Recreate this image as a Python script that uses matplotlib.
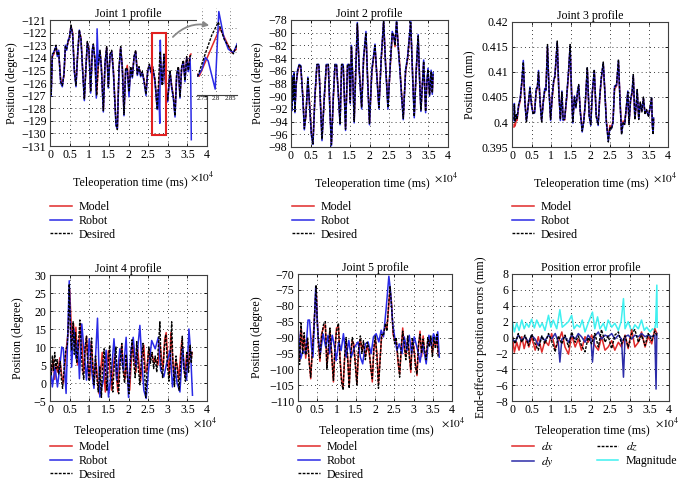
import matplotlib
matplotlib.use('Agg')
import matplotlib.pyplot as plt
from matplotlib.patches import Rectangle, FancyArrowPatch
from matplotlib.ticker import FuncFormatter, MultipleLocator

plt.rcParams['font.family'] = ['Liberation Serif', 'DejaVu Serif']
plt.rcParams['mathtext.fontset'] = 'stix'

W, H = 683, 486
FS = 8.6
RED = '#e02a2a'
BLUE = '#2a2ae6'
NAVY = '#2c2ca8'
CYAN = '#3ff0f0'

# --- data: (time x1e4 ms, value) ---
J1_DESIRED = [
    (0.000, -123.8), (0.015, -124.5), (0.030, -126.9), (0.060, -123.7), (0.100, -123.6), (0.153, -123.0),
    (0.187, -123.8), (0.221, -123.5), (0.272, -125.9), (0.314, -126.2), (0.357, -125.3), (0.391, -123.1),
    (0.425, -123.3), (0.459, -122.7), (0.493, -122.5), (0.535, -121.4), (0.577, -122.1), (0.620, -125.0),
    (0.662, -126.2), (0.705, -123.7), (0.747, -121.8), (0.790, -122.5), (0.832, -125.0), (0.875, -127.3),
    (0.917, -124.7), (0.951, -122.7), (0.994, -123.4), (1.036, -126.7), (1.079, -123.4), (1.104, -122.9),
    (1.146, -124.2), (1.189, -127.0), (1.231, -124.5), (1.274, -123.4), (1.308, -124.7), (1.359, -128.2),
    (1.401, -124.5), (1.444, -123.1), (1.486, -126.3), (1.529, -123.7), (1.571, -123.4), (1.614, -125.0),
    (1.682, -129.3), (1.716, -129.7), (1.758, -124.8), (1.800, -123.1), (1.843, -124.8), (1.885, -128.5),
    (1.928, -124.8), (1.970, -124.9), (2.013, -126.7), (2.055, -124.7), (2.098, -125.5), (2.140, -123.9),
    (2.183, -123.4), (2.225, -125.3), (2.268, -124.7), (2.310, -125.4), (2.352, -125.1), (2.395, -125.8),
    (2.446, -126.9), (2.488, -125.0), (2.531, -124.5), (2.573, -125.1), (2.616, -124.7), (2.675, -125.8),
    (2.718, -127.5), (2.735, -128.1), (2.760, -126.3), (2.785, -124.6), (2.808, -123.5), (2.830, -125.0),
    (2.862, -126.2), (2.904, -123.7), (2.955, -126.6), (2.998, -127.4), (3.057, -125.0), (3.100, -126.3),
    (3.142, -127.1), (3.185, -128.6), (3.227, -125.3), (3.270, -124.7), (3.312, -127.1), (3.355, -124.7),
    (3.397, -124.2), (3.439, -125.8), (3.482, -123.9), (3.524, -125.0), (3.567, -123.9), (3.592, -123.8),
]
J1_ROBOT = [
    (0.000, -123.9), (0.015, -124.8), (0.030, -127.0), (0.060, -123.8), (0.100, -123.5), (0.153, -123.1),
    (0.187, -123.9), (0.221, -123.4), (0.272, -126.0), (0.314, -126.3), (0.357, -125.2), (0.391, -123.0),
    (0.425, -123.4), (0.459, -122.6), (0.493, -122.4), (0.535, -121.5), (0.577, -122.2), (0.620, -125.1),
    (0.662, -126.3), (0.705, -123.6), (0.747, -121.8), (0.790, -122.6), (0.832, -125.1), (0.875, -127.4),
    (0.917, -124.6), (0.951, -122.8), (0.994, -123.5), (1.036, -126.8), (1.079, -123.3), (1.104, -123.0),
    (1.146, -124.3), (1.180, -127.2), (1.200, -121.7), (1.231, -124.6), (1.274, -123.5), (1.308, -124.8),
    (1.359, -128.3), (1.401, -124.4), (1.444, -123.2), (1.486, -126.4), (1.529, -123.8), (1.571, -123.5),
    (1.614, -125.1), (1.682, -129.4), (1.716, -129.6), (1.758, -124.9), (1.800, -123.2), (1.843, -124.9),
    (1.885, -128.6), (1.928, -124.9), (1.970, -125.0), (2.013, -127.1), (2.055, -124.8), (2.098, -125.6),
    (2.140, -124.0), (2.183, -123.5), (2.225, -125.4), (2.268, -124.8), (2.310, -125.5), (2.352, -125.2),
    (2.395, -125.9), (2.446, -127.0), (2.488, -125.1), (2.531, -124.6), (2.573, -125.2), (2.616, -124.8),
    (2.675, -125.9), (2.718, -127.6), (2.735, -128.1), (2.750, -127.5), (2.762, -126.5), (2.772, -126.8),
    (2.797, -129.2), (2.810, -122.6), (2.828, -124.8), (2.844, -125.8), (2.862, -126.1), (2.904, -123.8),
    (2.955, -126.7), (2.998, -127.5), (3.057, -125.1), (3.100, -126.4), (3.142, -127.2), (3.185, -128.7),
    (3.227, -125.4), (3.270, -124.8), (3.312, -127.2), (3.355, -124.8), (3.397, -124.3), (3.439, -125.9),
    (3.482, -124.0), (3.524, -125.1), (3.567, -124.0), (3.585, -125.5), (3.600, -130.5),
]
J1_MODEL = [
    (0.000, -123.7), (0.015, -124.3), (0.030, -126.6), (0.060, -123.9), (0.100, -123.7), (0.153, -123.1),
    (0.187, -123.7), (0.221, -123.6), (0.272, -125.7), (0.314, -126.1), (0.357, -125.4), (0.391, -123.2),
    (0.425, -123.2), (0.459, -122.8), (0.493, -122.4), (0.535, -121.5), (0.577, -122.0), (0.620, -124.9),
    (0.662, -126.1), (0.705, -123.8), (0.747, -121.9), (0.790, -122.4), (0.832, -124.9), (0.875, -127.2),
    (0.917, -124.8), (0.951, -122.8), (0.994, -123.3), (1.036, -126.6), (1.079, -123.5), (1.104, -123.0),
    (1.146, -124.1), (1.189, -126.9), (1.231, -124.6), (1.274, -123.5), (1.308, -124.6), (1.359, -128.1),
    (1.401, -124.6), (1.444, -123.2), (1.486, -126.2), (1.529, -123.8), (1.571, -123.5), (1.614, -124.9),
    (1.682, -129.2), (1.716, -129.6), (1.758, -124.9), (1.800, -123.2), (1.843, -124.7), (1.885, -128.4),
    (1.928, -125.1), (1.970, -124.6), (2.013, -126.6), (2.055, -124.8), (2.098, -125.4), (2.140, -124.0),
    (2.183, -123.5), (2.225, -125.2), (2.268, -124.8), (2.310, -125.3), (2.352, -125.2), (2.395, -125.7),
    (2.446, -126.8), (2.488, -125.1), (2.531, -124.6), (2.573, -125.0), (2.616, -124.8), (2.675, -125.7),
    (2.718, -127.6), (2.740, -128.1), (2.814, -124.0), (2.856, -126.1), (2.874, -125.8), (2.904, -123.9),
    (2.955, -126.5), (2.998, -127.3), (3.057, -125.1), (3.100, -126.2), (3.142, -127.0), (3.185, -128.5),
    (3.227, -125.4), (3.270, -124.8), (3.312, -127.0), (3.355, -124.8), (3.397, -124.3), (3.439, -125.7),
    (3.482, -124.0), (3.524, -124.9), (3.567, -123.8), (3.592, -123.7),
]

J2_DESIRED = [
    (0.00, -88.5), (0.02, -92.0), (0.04, -87.0), (0.06, -90.5), (0.08, -86.5), (0.10, -92.4), (0.13, -88.0),
    (0.17, -86.0), (0.21, -85.0), (0.25, -85.3), (0.30, -90.0), (0.34, -95.1), (0.38, -93.0), (0.43, -87.2),
    (0.47, -91.0), (0.52, -96.0), (0.56, -97.5), (0.61, -90.0), (0.66, -85.0), (0.71, -85.0), (0.75, -91.0),
    (0.79, -96.8), (0.85, -90.0), (0.90, -85.0), (0.95, -85.0), (0.99, -92.0), (1.03, -97.6), (1.08, -90.0),
    (1.12, -85.0), (1.16, -85.0), (1.21, -90.0), (1.25, -94.3), (1.29, -85.0), (1.33, -85.0), (1.36, -90.0),
    (1.39, -95.2), (1.44, -85.0), (1.48, -85.0), (1.51, -91.0), (1.54, -82.1), (1.58, -88.0), (1.61, -94.0),
    (1.65, -86.0), (1.69, -78.6), (1.74, -86.0), (1.80, -91.8), (1.85, -84.0), (1.91, -80.0), (1.95, -87.0),
    (2.00, -94.3), (2.06, -86.0), (2.14, -82.0), (2.19, -87.0), (2.24, -91.8), (2.30, -84.0), (2.36, -78.2),
    (2.41, -85.0), (2.47, -91.8), (2.53, -85.0), (2.58, -80.0), (2.62, -80.5), (2.65, -82.0), (2.69, -78.2),
    (2.73, -82.0), (2.77, -85.3), (2.82, -90.0), (2.86, -93.5), (2.92, -86.0), (2.97, -84.0), (3.05, -78.4),
    (3.10, -87.0), (3.14, -93.2), (3.19, -86.0), (3.24, -80.5), (3.28, -88.0), (3.31, -92.2), (3.35, -88.0),
    (3.38, -84.5), (3.43, -92.4), (3.46, -88.0), (3.49, -85.8), (3.53, -89.8), (3.57, -86.1), (3.60, -89.5),
    (3.62, -86.5),
]
J2_ROBOT = [
    (0.00, -88.8), (0.02, -92.3), (0.04, -86.8), (0.06, -90.7), (0.08, -86.3), (0.10, -92.6), (0.13, -88.2),
    (0.17, -85.8), (0.21, -85.0), (0.25, -85.2), (0.30, -90.3), (0.34, -95.3), (0.38, -92.8), (0.43, -87.0),
    (0.47, -91.3), (0.52, -96.2), (0.56, -97.6), (0.61, -89.8), (0.66, -85.0), (0.71, -85.0), (0.75, -91.3),
    (0.79, -97.0), (0.85, -89.8), (0.90, -85.0), (0.95, -85.0), (0.99, -92.3), (1.03, -97.8), (1.08, -89.7),
    (1.12, -85.0), (1.16, -85.0), (1.21, -90.3), (1.25, -94.5), (1.29, -85.0), (1.33, -85.0), (1.36, -90.3),
    (1.39, -95.4), (1.44, -85.0), (1.48, -85.0), (1.51, -91.2), (1.54, -82.0), (1.58, -88.3), (1.61, -94.2),
    (1.65, -85.8), (1.69, -78.4), (1.74, -86.3), (1.80, -92.0), (1.85, -83.8), (1.91, -79.8), (1.95, -87.3),
    (2.00, -94.5), (2.06, -85.8), (2.14, -81.8), (2.19, -87.3), (2.24, -92.0), (2.30, -83.8), (2.36, -78.0),
    (2.41, -85.3), (2.47, -92.0), (2.53, -84.8), (2.58, -79.8), (2.62, -80.7), (2.65, -81.8), (2.69, -78.0),
    (2.73, -82.3), (2.77, -85.5), (2.82, -90.3), (2.86, -93.7), (2.92, -85.8), (2.97, -83.8), (3.05, -78.2),
    (3.10, -87.3), (3.14, -93.4), (3.19, -85.8), (3.24, -80.3), (3.28, -88.3), (3.31, -92.4), (3.35, -87.8),
    (3.38, -84.3), (3.43, -92.6), (3.46, -87.8), (3.49, -85.6), (3.53, -90.0), (3.57, -85.9), (3.60, -89.7),
    (3.62, -86.3),
]
J2_MODEL = [
    (0.00, -88.3), (0.02, -91.6), (0.04, -87.3), (0.06, -90.2), (0.08, -86.8), (0.10, -92.0), (0.13, -88.2),
    (0.17, -86.2), (0.21, -85.2), (0.25, -85.5), (0.30, -89.7), (0.34, -94.8), (0.38, -93.2), (0.43, -87.5),
    (0.47, -90.8), (0.52, -95.8), (0.56, -97.3), (0.61, -90.2), (0.66, -85.2), (0.71, -85.2), (0.75, -90.8),
    (0.79, -96.6), (0.85, -90.2), (0.90, -85.2), (0.95, -85.2), (0.99, -91.8), (1.03, -97.4), (1.08, -90.2),
    (1.12, -85.2), (1.16, -85.2), (1.21, -89.8), (1.25, -94.1), (1.29, -85.2), (1.33, -85.2), (1.36, -89.8),
    (1.39, -95.0), (1.44, -85.2), (1.48, -85.2), (1.51, -90.8), (1.54, -82.4), (1.58, -87.8), (1.61, -93.8),
    (1.65, -86.2), (1.69, -78.8), (1.74, -85.8), (1.80, -91.6), (1.85, -84.2), (1.91, -80.2), (1.95, -86.8),
    (2.00, -94.1), (2.06, -86.2), (2.14, -82.2), (2.19, -86.8), (2.24, -91.6), (2.30, -84.2), (2.36, -78.4),
    (2.41, -84.8), (2.47, -91.6), (2.53, -85.2), (2.58, -80.2), (2.62, -80.4), (2.65, -82.2), (2.69, -78.4),
    (2.73, -81.8), (2.77, -85.1), (2.82, -89.8), (2.86, -93.3), (2.92, -86.2), (2.97, -84.2), (3.05, -78.6),
    (3.10, -86.8), (3.14, -93.0), (3.19, -86.2), (3.24, -80.7), (3.28, -87.8), (3.31, -92.0), (3.35, -88.2),
    (3.38, -84.7), (3.43, -92.2), (3.46, -88.2), (3.49, -86.0), (3.53, -89.6), (3.57, -86.3), (3.60, -89.3),
    (3.62, -86.7),
]

J3_DESIRED = [
    (0.05, 0.4005), (0.06, 0.4035), (0.08, 0.4000), (0.11, 0.4015), (0.13, 0.4005), (0.17, 0.4035),
    (0.21, 0.4045), (0.25, 0.4080), (0.29, 0.4120), (0.33, 0.4040), (0.37, 0.4000), (0.41, 0.4030),
    (0.46, 0.4068), (0.50, 0.4035), (0.54, 0.4015), (0.58, 0.4020), (0.62, 0.4065), (0.65, 0.4070),
    (0.68, 0.4100), (0.72, 0.4040), (0.76, 0.4000), (0.80, 0.4040), (0.84, 0.4065), (0.87, 0.4065),
    (0.91, 0.4155), (0.95, 0.4060), (0.99, 0.4005), (1.03, 0.4050), (1.07, 0.4085), (1.10, 0.4090),
    (1.16, 0.4162), (1.20, 0.4060), (1.24, 0.4005), (1.28, 0.4060), (1.31, 0.4005), (1.35, 0.4005),
    (1.40, 0.4050), (1.45, 0.4100), (1.49, 0.4155), (1.53, 0.4050), (1.56, 0.4000), (1.60, 0.4050),
    (1.64, 0.4030), (1.68, 0.4060), (1.71, 0.4075), (1.75, 0.4020), (1.80, 0.3982), (1.84, 0.4000),
    (1.88, 0.4040), (1.93, 0.4110), (1.98, 0.4010), (2.02, 0.3995), (2.06, 0.4060), (2.11, 0.4105),
    (2.16, 0.4010), (2.21, 0.3995), (2.25, 0.4050), (2.29, 0.4090), (2.34, 0.4120), (2.38, 0.4060),
    (2.42, 0.4000), (2.47, 0.3960), (2.51, 0.3990), (2.55, 0.3985), (2.59, 0.4000), (2.63, 0.4070),
    (2.68, 0.4075), (2.73, 0.4125), (2.77, 0.4040), (2.81, 0.3975), (2.85, 0.4000), (2.89, 0.3995),
    (2.93, 0.4030), (2.97, 0.4060), (3.00, 0.3995), (3.04, 0.4045), (3.08, 0.4060), (3.11, 0.4095),
    (3.15, 0.4005), (3.19, 0.4040), (3.21, 0.4065), (3.25, 0.4005), (3.29, 0.4040), (3.33, 0.4020),
    (3.37, 0.4050), (3.41, 0.4015), (3.45, 0.4025), (3.50, 0.4010), (3.54, 0.4030), (3.58, 0.4050),
    (3.60, 0.3990), (3.62, 0.3975), (3.63, 0.4010),
]
J3_ROBOT = [
    (0.05, 0.4003), (0.06, 0.4037), (0.08, 0.4002), (0.11, 0.4013), (0.13, 0.4007), (0.17, 0.4033),
    (0.21, 0.4047), (0.25, 0.4078), (0.29, 0.4123), (0.33, 0.4038), (0.37, 0.4002), (0.41, 0.4028),
    (0.46, 0.4070), (0.50, 0.4033), (0.54, 0.4017), (0.58, 0.4018), (0.62, 0.4067), (0.65, 0.4068),
    (0.68, 0.4103), (0.72, 0.4038), (0.76, 0.4002), (0.80, 0.4038), (0.84, 0.4067), (0.87, 0.4063),
    (0.91, 0.4152), (0.95, 0.4062), (0.99, 0.4003), (1.03, 0.4052), (1.07, 0.4083), (1.10, 0.4092),
    (1.16, 0.4160), (1.20, 0.4062), (1.24, 0.4003), (1.28, 0.4062), (1.31, 0.4003), (1.35, 0.4007),
    (1.40, 0.4048), (1.45, 0.4102), (1.49, 0.4152), (1.53, 0.4052), (1.56, 0.3998), (1.60, 0.4052),
    (1.64, 0.4028), (1.68, 0.4062), (1.71, 0.4073), (1.75, 0.4022), (1.80, 0.3980), (1.84, 0.4002),
    (1.88, 0.4038), (1.93, 0.4108), (1.98, 0.4012), (2.02, 0.3993), (2.06, 0.4062), (2.11, 0.4103),
    (2.16, 0.4012), (2.21, 0.3993), (2.25, 0.4052), (2.29, 0.4088), (2.34, 0.4118), (2.38, 0.4062),
    (2.42, 0.3998), (2.47, 0.3962), (2.51, 0.3988), (2.55, 0.3987), (2.59, 0.3998), (2.63, 0.4072),
    (2.68, 0.4073), (2.73, 0.4123), (2.77, 0.4042), (2.81, 0.3977), (2.85, 0.3998), (2.89, 0.3997),
    (2.93, 0.4028), (2.97, 0.4062), (3.00, 0.3997), (3.04, 0.4043), (3.08, 0.4062), (3.11, 0.4093),
    (3.15, 0.4007), (3.19, 0.4038), (3.21, 0.4063), (3.25, 0.4007), (3.29, 0.4038), (3.33, 0.4022),
    (3.37, 0.4048), (3.41, 0.4017), (3.45, 0.4023), (3.50, 0.4012), (3.54, 0.4028), (3.58, 0.4048),
    (3.60, 0.3992), (3.62, 0.3977), (3.63, 0.4008),
]
J3_MODEL = [
    (0.05, 0.3990), (0.06, 0.3996), (0.08, 0.3992), (0.11, 0.4005), (0.13, 0.4003), (0.17, 0.4030),
    (0.21, 0.4042), (0.25, 0.4075), (0.29, 0.4112), (0.33, 0.4045), (0.37, 0.4005), (0.41, 0.4028),
    (0.46, 0.4062), (0.50, 0.4038), (0.54, 0.4018), (0.58, 0.4022), (0.62, 0.4060), (0.65, 0.4068),
    (0.68, 0.4095), (0.72, 0.4045), (0.76, 0.4004), (0.80, 0.4037), (0.84, 0.4062), (0.87, 0.4068),
    (0.91, 0.4148), (0.95, 0.4065), (0.99, 0.4008), (1.03, 0.4047), (1.07, 0.4080), (1.10, 0.4092),
    (1.16, 0.4155), (1.20, 0.4065), (1.24, 0.4008), (1.28, 0.4056), (1.31, 0.4008), (1.35, 0.4004),
    (1.40, 0.4046), (1.45, 0.4096), (1.49, 0.4148), (1.53, 0.4055), (1.56, 0.4003), (1.60, 0.4046),
    (1.64, 0.4032), (1.68, 0.4057), (1.71, 0.4070), (1.75, 0.4024), (1.80, 0.3986), (1.84, 0.4003),
    (1.88, 0.4037), (1.93, 0.4104), (1.98, 0.4014), (2.02, 0.3998), (2.06, 0.4057), (2.11, 0.4100),
    (2.16, 0.4014), (2.21, 0.3998), (2.25, 0.4047), (2.29, 0.4086), (2.34, 0.4114), (2.38, 0.4064),
    (2.42, 0.4003), (2.47, 0.3966), (2.51, 0.3993), (2.55, 0.3988), (2.59, 0.4003), (2.63, 0.4066),
    (2.68, 0.4072), (2.73, 0.4118), (2.77, 0.4045), (2.81, 0.3980), (2.85, 0.4002), (2.89, 0.3998),
    (2.93, 0.4027), (2.97, 0.4056), (3.00, 0.3999), (3.04, 0.4042), (3.08, 0.4057), (3.11, 0.4090),
    (3.15, 0.4008), (3.19, 0.4037), (3.21, 0.4060), (3.25, 0.4008), (3.29, 0.4037), (3.33, 0.4023),
    (3.37, 0.4046), (3.41, 0.4018), (3.45, 0.4023), (3.50, 0.4013), (3.54, 0.4028), (3.58, 0.4046),
    (3.60, 0.3994), (3.62, 0.3980), (3.63, 0.4006),
]

J4_DESIRED = [
    (0.00, 6.5), (0.03, 2.0), (0.06, 7.5), (0.09, 3.5), (0.12, 8.5), (0.15, 4.0), (0.18, 6.5), (0.22, 2.5),
    (0.26, 6.0), (0.29, 1.0), (0.32, -1.5), (0.36, 4.0), (0.40, 9.0), (0.44, 10.5), (0.47, 17.0), (0.49, 27.5),
    (0.52, 15.0), (0.55, 9.0), (0.59, 17.0), (0.62, 8.0), (0.65, 14.0), (0.68, 5.5), (0.72, 10.0), (0.76, 17.5),
    (0.79, 11.0), (0.82, 4.0), (0.86, 1.0), (0.89, 9.5), (0.93, 13.0), (0.96, 6.0), (1.00, 0.5), (1.03, 7.0),
    (1.06, 12.5), (1.09, 4.0), (1.12, -0.5), (1.16, 7.5), (1.19, 2.0), (1.23, -2.5), (1.27, 4.5), (1.31, -4.0),
    (1.34, 5.0), (1.38, 9.5), (1.42, 2.0), (1.45, -2.0), (1.49, 6.0), (1.52, 10.5), (1.56, 3.0), (1.60, -2.5),
    (1.64, 5.5), (1.68, 10.0), (1.71, 1.5), (1.75, -3.0), (1.79, 6.0), (1.83, 11.0), (1.86, 3.5), (1.90, 0.0),
    (1.94, 8.0), (1.97, 2.0), (2.01, -3.0), (2.05, 5.5), (2.09, 12.0), (2.13, 6.0), (2.17, 1.5), (2.21, 11.5),
    (2.25, 4.0), (2.29, -0.5), (2.33, 7.0), (2.37, 11.0), (2.41, 3.0), (2.44, -4.0), (2.48, 5.0), (2.52, 10.0),
    (2.56, 5.5), (2.60, 8.5), (2.64, 4.0), (2.68, 7.5), (2.72, 3.0), (2.76, 10.0), (2.80, 17.0), (2.83, 5.0),
    (2.87, 1.5), (2.91, 9.5), (2.95, 13.5), (2.99, 5.0), (3.03, 0.5), (3.07, 8.0), (3.10, 17.0), (3.13, 6.0),
    (3.17, -1.0), (3.21, 7.5), (3.25, 3.0), (3.29, -2.0), (3.33, 6.0), (3.37, 13.0), (3.41, 4.0), (3.45, 0.5),
    (3.49, 8.5), (3.53, 3.0), (3.57, 10.5), (3.60, 5.5), (3.62, 9.0),
]
J4_ROBOT = [
    (0.00, 6.3), (0.06, -1.1), (0.13, 4.4), (0.19, -1.1), (0.24, 3.5), (0.30, 10.0), (0.34, 9.5), (0.41, -2.9),
    (0.49, 28.4), (0.55, 4.4), (0.61, 15.0), (0.66, 6.8), (0.71, 11.8), (0.75, 1.2), (0.81, 16.4), (0.86, 10.0),
    (0.93, 0.8), (1.00, 12.3), (1.06, 3.5), (1.12, -1.5), (1.21, 18.0), (1.27, -3.9), (1.36, 0.8), (1.43, 9.1),
    (1.49, -3.9), (1.57, 3.5), (1.63, 12.3), (1.70, 0.8), (1.78, 9.5), (1.87, 3.5), (1.94, 12.7), (2.00, -4.0),
    (2.06, 9.0), (2.12, 12.7), (2.19, 4.4), (2.29, 16.0), (2.34, 6.0), (2.39, -2.0), (2.45, -4.3), (2.51, 3.5),
    (2.59, 11.8), (2.68, 9.5), (2.76, 12.7), (2.82, 3.5), (2.90, 1.7), (2.97, 5.4), (3.06, 9.1), (3.12, -1.1),
    (3.18, 4.4), (3.24, -0.2), (3.31, -2.5), (3.38, 10.0), (3.42, 4.4), (3.48, 0.8), (3.54, 15.0), (3.58, 9.1),
    (3.63, -3.4),
]
J4_MODEL = [
    (0.00, 6.0), (0.04, 3.0), (0.08, 6.5), (0.12, 1.0), (0.16, 5.0), (0.20, 3.0), (0.25, 7.0), (0.30, 2.0),
    (0.34, 0.0), (0.38, 5.0), (0.42, 10.0), (0.46, 14.0), (0.50, 26.0), (0.53, 19.0), (0.56, 12.0), (0.60, 16.5),
    (0.63, 11.0), (0.66, 15.5), (0.70, 5.0), (0.74, 11.0), (0.78, 16.5), (0.81, 12.0), (0.85, 2.5), (0.89, 8.0),
    (0.93, 13.0), (0.97, 5.0), (1.01, 1.0), (1.05, 11.5), (1.09, 5.0), (1.13, 1.0), (1.17, 6.0), (1.21, 1.0),
    (1.25, -3.0), (1.29, 3.0), (1.33, 8.5), (1.37, 3.0), (1.41, -2.5), (1.45, 5.0), (1.49, 9.0), (1.53, 3.0),
    (1.57, -2.0), (1.61, 4.0), (1.65, 8.0), (1.69, 2.0), (1.73, -2.5), (1.78, 7.0), (1.83, 10.5), (1.87, 4.0),
    (1.91, 1.0), (1.95, 7.0), (1.99, 0.0), (2.03, -2.0), (2.07, 6.0), (2.11, 11.0), (2.15, 6.5), (2.19, 3.0),
    (2.23, 10.0), (2.27, 5.0), (2.31, 0.5), (2.35, 7.5), (2.39, 10.5), (2.43, 3.0), (2.47, 3.5), (2.51, 9.0),
    (2.55, 7.0), (2.60, 8.0), (2.65, 5.5), (2.70, 6.5), (2.75, 5.0), (2.80, 11.0), (2.84, 7.0), (2.88, 4.0),
    (2.92, 12.0), (2.96, 14.0), (3.00, 7.0), (3.04, 2.0), (3.08, 14.0), (3.12, 8.0), (3.16, 1.0), (3.20, 6.0),
    (3.24, 5.0), (3.28, 1.0), (3.32, 7.0), (3.36, 12.0), (3.40, 6.0), (3.44, 2.0), (3.48, 8.0), (3.52, 4.0),
    (3.56, 10.0), (3.60, 7.0), (3.62, 8.5),
]

J5_DESIRED = [
    (0.00, -85.0), (0.04, -98.5), (0.08, -85.5), (0.12, -95.0), (0.16, -88.5), (0.20, -95.5), (0.25, -90.0),
    (0.29, -98.0), (0.33, -102.5), (0.37, -95.0), (0.41, -88.0), (0.45, -78.0), (0.47, -73.5), (0.50, -85.0),
    (0.53, -91.0), (0.57, -96.5), (0.61, -90.0), (0.66, -86.0), (0.71, -85.0), (0.75, -100.0), (0.79, -93.0),
    (0.83, -87.0), (0.87, -95.0), (0.92, -103.5), (0.96, -93.0), (1.00, -88.0), (1.05, -85.5), (1.09, -97.0),
    (1.13, -104.0), (1.17, -106.5), (1.21, -96.0), (1.25, -90.0), (1.29, -97.0), (1.33, -106.0), (1.37, -95.0),
    (1.41, -90.0), (1.45, -93.0), (1.49, -99.0), (1.53, -105.0), (1.57, -94.0), (1.62, -89.5), (1.66, -95.0),
    (1.70, -91.0), (1.75, -97.0), (1.80, -91.5), (1.85, -94.0), (1.89, -100.0), (1.93, -103.0), (1.97, -93.0),
    (2.01, -89.5), (2.05, -96.0), (2.09, -106.0), (2.13, -98.0), (2.17, -89.0), (2.22, -89.5), (2.27, -85.5),
    (2.31, -88.0), (2.35, -80.0), (2.39, -74.0), (2.43, -80.0), (2.47, -88.0), (2.51, -92.0), (2.55, -90.0),
    (2.60, -97.0), (2.64, -102.5), (2.68, -93.0), (2.72, -88.0), (2.76, -92.0), (2.80, -97.0), (2.85, -89.5),
    (2.89, -96.0), (2.93, -100.0), (2.97, -90.0), (3.01, -94.0), (3.05, -99.0), (3.09, -101.5), (3.13, -92.0),
    (3.17, -89.0), (3.21, -95.0), (3.25, -90.5), (3.29, -94.0), (3.33, -97.0), (3.37, -90.0), (3.41, -93.0),
    (3.45, -89.5), (3.49, -96.0), (3.53, -90.0), (3.57, -93.5), (3.61, -89.0), (3.64, -96.0),
]
J5_ROBOT = [
    (0.00, -86.7), (0.07, -96.7), (0.13, -94.1), (0.20, -95.1), (0.26, -84.5), (0.30, -84.5), (0.35, -93.0),
    (0.39, -96.2), (0.46, -73.9), (0.52, -89.8), (0.58, -95.1), (0.65, -88.8), (0.72, -93.0), (0.78, -89.3),
    (0.82, -95.1), (0.89, -89.3), (0.95, -93.0), (0.99, -97.3), (1.06, -91.4), (1.12, -94.1), (1.18, -88.8),
    (1.25, -96.2), (1.32, -90.9), (1.38, -96.2), (1.47, -93.0), (1.56, -91.4), (1.62, -96.2), (1.68, -98.3),
    (1.75, -92.0), (1.82, -91.4), (1.90, -95.1), (1.96, -89.8), (2.03, -88.8), (2.10, -91.4), (2.16, -87.7),
    (2.22, -89.8), (2.29, -80.8), (2.36, -70.7), (2.40, -75.0), (2.46, -85.6), (2.51, -89.8), (2.57, -94.1),
    (2.63, -92.0), (2.70, -95.1), (2.76, -89.8), (2.83, -94.1), (2.89, -89.3), (2.95, -95.1), (3.02, -89.8),
    (3.11, -94.1), (3.17, -97.8), (3.24, -92.0), (3.33, -98.3), (3.40, -89.3), (3.46, -92.5), (3.52, -88.8),
    (3.59, -90.9), (3.63, -88.2), (3.67, -96.2),
]
J5_MODEL = [
    (0.00, -86.0), (0.04, -97.5), (0.08, -86.5), (0.12, -94.0), (0.16, -89.5), (0.20, -96.5), (0.25, -91.0),
    (0.29, -97.0), (0.33, -103.0), (0.37, -94.0), (0.41, -87.0), (0.45, -79.0), (0.47, -74.0), (0.50, -84.0),
    (0.53, -92.0), (0.57, -97.5), (0.61, -89.0), (0.66, -87.0), (0.71, -86.0), (0.75, -99.0), (0.79, -94.0),
    (0.83, -88.0), (0.87, -94.0), (0.92, -104.0), (0.96, -94.0), (1.00, -87.0), (1.05, -86.5), (1.09, -96.0),
    (1.13, -103.0), (1.17, -106.0), (1.21, -97.0), (1.25, -91.0), (1.29, -96.0), (1.33, -105.0), (1.37, -96.0),
    (1.41, -91.0), (1.45, -92.0), (1.49, -98.0), (1.53, -104.5), (1.57, -95.0), (1.62, -90.5), (1.66, -94.0),
    (1.70, -92.0), (1.75, -96.0), (1.80, -92.5), (1.85, -95.0), (1.89, -99.0), (1.93, -104.0), (1.97, -94.0),
    (2.01, -90.5), (2.05, -95.0), (2.09, -104.5), (2.13, -97.0), (2.17, -90.0), (2.22, -88.5), (2.27, -86.5),
    (2.31, -87.0), (2.35, -81.0), (2.39, -75.0), (2.43, -79.0), (2.47, -89.0), (2.51, -91.0), (2.55, -91.0),
    (2.60, -98.0), (2.64, -101.5), (2.68, -94.0), (2.72, -87.0), (2.76, -93.0), (2.80, -96.0), (2.85, -90.5),
    (2.89, -95.0), (2.93, -101.0), (2.97, -91.0), (3.01, -93.0), (3.05, -98.0), (3.09, -102.0), (3.13, -93.0),
    (3.17, -88.0), (3.21, -96.0), (3.25, -89.5), (3.29, -95.0), (3.33, -96.0), (3.37, -91.0), (3.41, -92.0),
    (3.45, -90.5), (3.49, -95.0), (3.53, -91.0), (3.57, -92.5), (3.61, -90.0), (3.64, -95.0),
]

ERR_DX = [
    (0.01, 0.1), (0.06, -1.85), (0.12, -0.6), (0.18, -1.6), (0.25, 0.1), (0.31, -1.4), (0.37, -0.2), (0.43, -1.2),
    (0.50, 0.1), (0.59, -1.6), (0.67, 0.1), (0.76, -1.85), (0.84, -0.4), (0.93, -1.0), (1.01, 0.5), (1.10, -1.4),
    (1.18, -0.6), (1.27, 0.7), (1.35, -1.2), (1.44, -2.1), (1.52, 0.3), (1.61, -1.2), (1.69, -0.2), (1.77, -1.6),
    (1.86, 0.1), (1.94, -0.6), (2.03, 0.3), (2.11, -1.0), (2.20, -1.6), (2.28, 0.1), (2.37, -1.6), (2.45, -1.2),
    (2.54, -0.4), (2.62, -1.6), (2.71, -0.6), (2.79, -1.2), (2.88, 0.3), (2.96, -1.4), (3.05, 1.0), (3.13, -1.2),
    (3.22, -0.6), (3.30, 0.7), (3.39, -1.2), (3.47, 0.1), (3.56, -0.8), (3.64, 1.1), (3.69, 0.5),
]
ERR_DY = [
    (0.01, -0.15), (0.08, -0.6), (0.16, 0.3), (0.25, -0.4), (0.33, 0.1), (0.42, -0.6), (0.50, 0.3), (0.59, -0.2),
    (0.67, -1.0), (0.76, 0.1), (0.84, -0.4), (0.93, 0.3), (1.01, -0.2), (1.10, 0.5), (1.18, -0.6), (1.22, -3.1),
    (1.27, -0.2), (1.35, 0.1), (1.44, -0.6), (1.52, 0.3), (1.61, -0.2), (1.69, 0.5), (1.77, 0.1), (1.86, -0.6),
    (1.94, 0.3), (2.01, -0.2), (2.05, -3.1), (2.10, 0.1), (2.20, 0.7), (2.28, -0.2), (2.37, 0.3), (2.45, 0.1),
    (2.54, 0.5), (2.62, -0.2), (2.71, 0.3), (2.79, -0.2), (2.84, -5.0), (2.88, 0.1), (2.96, 0.3), (3.05, -0.2),
    (3.13, 0.3), (3.22, 0.1), (3.30, 0.5), (3.39, 0.1), (3.47, 0.3), (3.56, 0.1), (3.64, 0.3), (3.67, -6.5),
    (3.69, 0.5),
]
ERR_DZ = [
    (0.01, 0.1), (0.08, -0.8), (0.16, 0.5), (0.25, -0.6), (0.33, 0.3), (0.42, -1.0), (0.50, 0.4), (0.59, -0.8),
    (0.67, -1.6), (0.76, 0.2), (0.84, -0.8), (0.93, 0.5), (1.01, -0.4), (1.10, -1.8), (1.18, 0.2), (1.27, -0.8),
    (1.35, 0.3), (1.44, -1.2), (1.52, 0.7), (1.61, -0.6), (1.69, 0.2), (1.77, -1.0), (1.86, -1.8), (1.94, 0.0),
    (2.03, -0.8), (2.11, 0.5), (2.20, -1.2), (2.28, 1.0), (2.37, -0.6), (2.45, 0.2), (2.54, -1.4), (2.62, 0.3),
    (2.71, 0.7), (2.79, -0.8), (2.88, 0.2), (2.96, -1.2), (3.05, 0.5), (3.13, 1.0), (3.22, -0.6), (3.30, 0.3),
    (3.39, -1.0), (3.47, 0.5), (3.56, -0.4), (3.64, 0.8), (3.69, 0.2),
]
ERR_MAG = [
    (0.01, 2.0), (0.06, 0.7), (0.12, 1.8), (0.18, 0.9), (0.25, 2.2), (0.31, 1.1), (0.37, 1.8), (0.43, 1.3),
    (0.50, 2.3), (0.57, 1.2), (0.63, 2.2), (0.71, 1.3), (0.77, 1.8), (0.84, 0.9), (0.93, 2.8), (0.99, 1.3),
    (1.05, 2.2), (1.14, 1.1), (1.22, 3.5), (1.28, 1.3), (1.35, 1.6), (1.44, 2.0), (1.52, 2.8), (1.58, 1.1),
    (1.65, 1.6), (1.73, 1.3), (1.79, 2.2), (1.86, 0.7), (1.94, 1.8), (2.05, 3.2), (2.11, 1.1), (2.18, 2.6),
    (2.24, 1.1), (2.33, 1.8), (2.39, 0.9), (2.45, 2.2), (2.54, 1.3), (2.62, 1.8), (2.71, 0.9), (2.78, 2.0),
    (2.84, 4.9), (2.88, 1.1), (2.96, 2.0), (3.05, 0.7), (3.13, 1.6), (3.22, 1.1), (3.30, 2.2), (3.37, 0.9),
    (3.43, 1.3), (3.52, 0.7), (3.58, 1.1), (3.63, 0.9), (3.66, 1.8), (3.69, 6.6), (3.70, 1.3),
]

ZOOM_BOX = (2.60, -130.15, 0.35, 8.15)   # x, y, width, height (joint 1 data units)
INSET_XLIM = (2.732, 2.875)
INSET_YLIM = (-129.7, -122.3)
INSET_XTICKS = [2.75, 2.8, 2.85]


def px_axes(fig, left, top, right, bottom):
    return fig.add_axes([left / W, 1 - bottom / H, (right - left) / W, (bottom - top) / H])


def fmt(v, _pos):
    return f"{v:g}".replace('-', '\u2212')


def style_axes(ax, ylim, ystep):
    ax.set_xlim(0, 4)
    ax.set_ylim(*ylim)
    ax.xaxis.set_major_locator(MultipleLocator(0.5))
    ax.yaxis.set_major_locator(MultipleLocator(ystep))
    ax.xaxis.set_major_formatter(FuncFormatter(fmt))
    ax.yaxis.set_major_formatter(FuncFormatter(fmt))
    ax.tick_params(direction='in', top=True, right=True, length=2.5, width=0.6,
                   labelsize=FS, pad=2.5)
    ax.grid(True, color='black', linestyle=(0, (1, 4)), linewidth=0.6)
    for s in ax.spines.values():
        s.set_color('#404040')
        s.set_linewidth(0.8)


def xy(pairs):
    return list(zip(*pairs))


def joint_lines(ax, model, robot, desired):
    h1, = ax.plot(*xy(model), color=RED, lw=1.1, label='Model')
    h2, = ax.plot(*xy(robot), color=BLUE, lw=1.1, label='Robot')
    h3, = ax.plot(*xy(desired), color='black', lw=1.0, ls=(0, (2, 1)), label='Desired')
    return [h1, h2, h3]


def legend_at(ax, handles, x, y, **kw):
    ax.legend(handles=handles, loc='upper left', bbox_to_anchor=(x / W, 1 - y / H),
              bbox_transform=ax.figure.transFigure, frameon=False, fontsize=FS,
              handlelength=1.8, handletextpad=0.6, labelspacing=0.15,
              borderpad=0, borderaxespad=0, **kw)


def annotate_panel(fig, ax, title, ylabel, ylab_x, xlab_cx, xlab_y, x4_x, x4_y):
    ax.set_title(title, fontsize=FS, pad=2.5)
    bb = ax.get_position()
    fig.text(ylab_x / W, (bb.y0 + bb.y1) / 2, ylabel, rotation=90, ha='center',
             va='center', fontsize=FS)
    fig.text(xlab_cx / W, 1 - xlab_y / H, 'Teleoperation time (ms)', ha='center',
             va='center', fontsize=FS)
    fig.text(x4_x / W, 1 - x4_y / H, r'$\times10^4$', ha='left', va='center', fontsize=FS - 0.4)


def main():
    fig = plt.figure(figsize=(W / 100, H / 100), dpi=100)

    # --- Joint 1 ---
    ax1 = px_axes(fig, 50, 20, 207, 146)
    style_axes(ax1, (-131, -121), 1)
    hs = joint_lines(ax1, J1_MODEL, J1_ROBOT, J1_DESIRED)
    bx, by, bw, bh = ZOOM_BOX
    ax1.add_patch(Rectangle((bx, by), bw, bh, fill=False, ec='#e02020', lw=1.5, zorder=5))
    annotate_panel(fig, ax1, 'Joint 1 profile', 'Position (degree)', 12, 130, 183, 190, 177)
    legend_at(ax1, hs, 50, 201)

    axi = px_axes(fig, 197, 8, 237, 95)
    axi.set_facecolor('white')
    joint_lines(axi, J1_MODEL, J1_ROBOT, J1_DESIRED)
    axi.set_xlim(*INSET_XLIM)
    axi.set_ylim(*INSET_YLIM)
    axi.set_xticks(INSET_XTICKS)
    axi.set_xticklabels([f"{t:g}" for t in INSET_XTICKS])
    axi.set_yticks([-128, -126, -124])
    axi.tick_params(axis='x', labelsize=4.8, length=0, pad=1)
    axi.tick_params(axis='y', left=False, labelleft=False)
    axi.grid(True, color='black', linestyle=(0, (1, 4)), linewidth=0.5)
    for name in ('left', 'right', 'top'):
        axi.spines[name].set_visible(False)
    axi.spines['bottom'].set_color('#404040')
    axi.spines['bottom'].set_linewidth(0.8)

    fig.add_artist(FancyArrowPatch((171 / W, 1 - 39 / H), (212 / W, 1 - 26 / H),
                                   transform=fig.transFigure, connectionstyle='arc3,rad=-0.3',
                                   arrowstyle='-|>', mutation_scale=8, color='#888888', lw=1.3))

    # --- Joint 2 ---
    ax2 = px_axes(fig, 291, 20, 448, 147)
    style_axes(ax2, (-98, -78), 2)
    hs = joint_lines(ax2, J2_MODEL, J2_ROBOT, J2_DESIRED)
    annotate_panel(fig, ax2, 'Joint 2 profile', 'Position (degree)', 258, 372, 184, 434, 178)
    legend_at(ax2, hs, 292, 201)

    # --- Joint 3 ---
    ax3 = px_axes(fig, 512, 22, 668, 147)
    style_axes(ax3, (0.395, 0.42), 0.005)
    hs = joint_lines(ax3, J3_MODEL, J3_ROBOT, J3_DESIRED)
    annotate_panel(fig, ax3, 'Joint 3 profile', 'Position (mm)', 470, 591, 184, 653, 178)
    legend_at(ax3, hs, 512, 201)

    # --- Joint 4 ---
    ax4 = px_axes(fig, 50, 275, 207, 401)
    style_axes(ax4, (-5, 30), 5)
    hs = joint_lines(ax4, J4_MODEL, J4_ROBOT, J4_DESIRED)
    annotate_panel(fig, ax4, 'Joint 4 profile', 'Position (degree)', 18, 131, 431, 193, 423)
    legend_at(ax4, hs, 50, 441)

    # --- Joint 5 ---
    ax5 = px_axes(fig, 298, 274, 452, 401)
    style_axes(ax5, (-110, -70), 5)
    hs = joint_lines(ax5, J5_MODEL, J5_ROBOT, J5_DESIRED)
    annotate_panel(fig, ax5, 'Joint 5 profile', 'Position (degree)', 257, 376, 431, 441, 423)
    legend_at(ax5, hs, 298, 441)

    # --- Position error ---
    ax6 = px_axes(fig, 512, 274, 669, 401)
    style_axes(ax6, (-8, 8), 2)
    hm, = ax6.plot(*xy(ERR_MAG), color=CYAN, lw=1.1, label='Magnitude')
    hx, = ax6.plot(*xy(ERR_DX), color=RED, lw=1.1, label='$dx$')
    hy, = ax6.plot(*xy(ERR_DY), color=NAVY, lw=1.1, label='$dy$')
    hz, = ax6.plot(*xy(ERR_DZ), color='black', lw=1.0, ls=(0, (2, 1)), label='$dz$')
    annotate_panel(fig, ax6, 'Position error profile', 'End-effector position errors (mm)',
                   481, 592, 431, 655, 423)
    legend_at(ax6, [hx, hy, hz, hm], 512, 441, ncol=2, columnspacing=3.6)

    fig.savefig('out.png', dpi=100)
    plt.close(fig)


if __name__ == "__main__":
    main()
